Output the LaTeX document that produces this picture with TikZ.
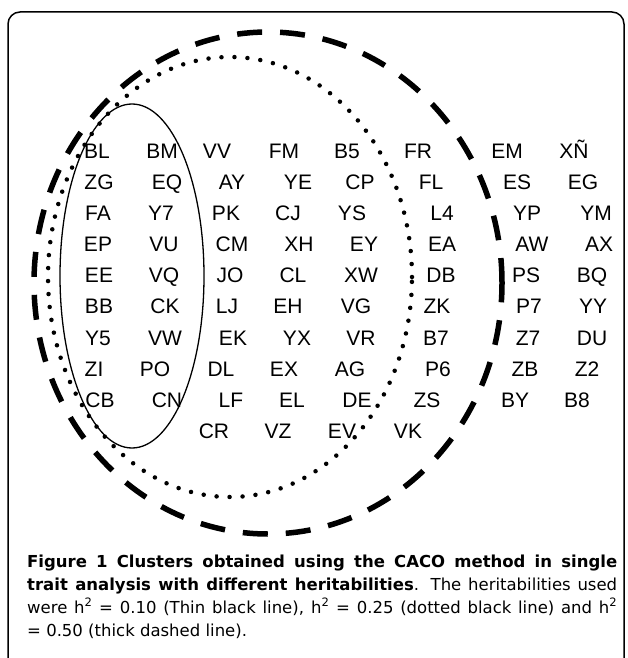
\documentclass[tikz,border=0pt]{standalone}
\usepackage{fontspec}
\setmainfont{DejaVu Sans}
\newfontfamily\lblfont{Liberation Sans}
\begin{document}
\begin{tikzpicture}[x=1pt,y=-1pt,
  lbl/.style={font=\lblfont\fontsize{21}{21}\selectfont, inner sep=0pt, anchor=base},
  thinline/.style={line width=1.3pt},
  dotline/.style={line width=4.5pt, line cap=round, dash pattern=on 0pt off 13pt},
  dashline/.style={line width=5.5pt, dash pattern=on 25pt off 18pt},
  framebox/.style={line width=1.5pt},
  captionstyle/.style={font=\fontsize{16.5}{23}\selectfont, inner sep=0pt, anchor=base west, text width=590pt, align=justify}]
\useasboundingbox (0,0) rectangle (627,658);
% frame
\draw[framebox] (8,670) -- (8,24) arc[start angle=180, end angle=90, radius=12pt] -- (612,12) arc[start angle=90, end angle=0, radius=12pt] -- (624,670);
% clusters
\draw[dashline] (268,283) ellipse [x radius=234pt, y radius=251pt];
\draw[dotline] (230,277) ellipse [x radius=182pt, y radius=220pt];
\draw[thinline] (132,276) ellipse [x radius=72pt, y radius=172pt];
% labels
\foreach \t/\xx [count=\i] in {BL/97, BM/162, VV/217, FM/284, B5/347, FR/418, EM/507, XÑ/574}
  \node[lbl] (ra\i) at (\xx,158.5) {\t};
\foreach \t/\xx [count=\i] in {ZG/99, EQ/167, AY/232, YE/298, CP/360, FL/431, ES/517, EG/583}
  \node[lbl] (rb\i) at (\xx,189.5) {\t};
\foreach \t/\xx [count=\i] in {FA/98, Y7/161, PK/226, CJ/288, YS/352, L4/442, YP/527, YM/596}
  \node[lbl] (rc\i) at (\xx,220.5) {\t};
\foreach \t/\xx [count=\i] in {EP/98, VU/164, CM/232, XH/299, EY/364, EA/442, AW/532, AX/599}
  \node[lbl] (rd\i) at (\xx,251.5) {\t};
\foreach \t/\xx [count=\i] in {EE/99, VQ/164, JO/230, CL/293, XW/361, DB/441, PS/526, BQ/592}
  \node[lbl] (re\i) at (\xx,282.5) {\t};
\foreach \t/\xx [count=\i] in {BB/99, CK/165, LJ/227, EH/288, VG/356, ZK/437, P7/529, YY/593}
  \node[lbl] (rf\i) at (\xx,313.5) {\t};
\foreach \t/\xx [count=\i] in {Y5/98, VW/165, EK/233, YX/297, VR/361, B7/436, Z7/528, DU/592}
  \node[lbl] (rg\i) at (\xx,345.5) {\t};
\foreach \t/\xx [count=\i] in {ZI/94, PO/155, DL/221, EX/284, AG/350, P6/438, ZB/525, Z2/587}
  \node[lbl] (rh\i) at (\xx,376.5) {\t};
\foreach \t/\xx [count=\i] in {CB/100, CN/167, LF/231, EL/292, DE/357, ZS/427, BY/515, B8/577}
  \node[lbl] (ri\i) at (\xx,407.5) {\t};
\foreach \t/\xx [count=\i] in {CR/214, VZ/278, EV/342, VK/408}
  \node[lbl] (rj\i) at (\xx,438.5) {\t};
% caption
\node[captionstyle] (caption) at (27,567) {\textbf{Figure 1 Clusters obtained using the CACO method in single\linebreak trait analysis with different heritabilities}. The heritabilities used\linebreak were h\textsuperscript{2} = 0.10 (Thin black line), h\textsuperscript{2} = 0.25 (dotted black line) and h\textsuperscript{2}\linebreak = 0.50 (thick dashed line).};
\end{tikzpicture}
\end{document}
